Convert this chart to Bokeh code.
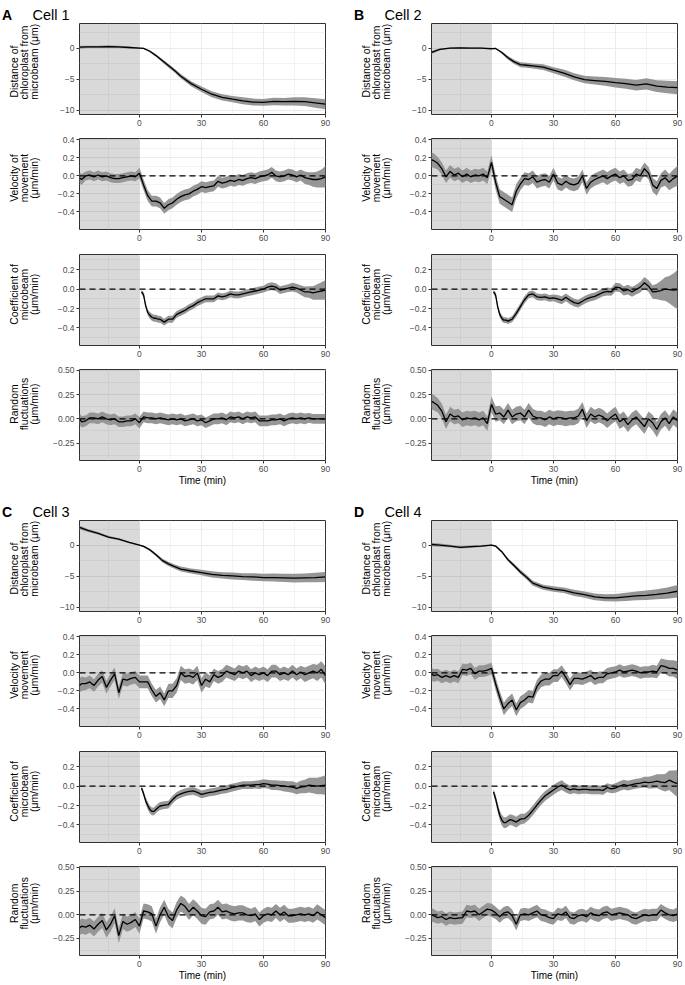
import math
from bokeh.plotting import figure
from bokeh.layouts import row, column
from bokeh.models import (Range1d, FixedTicker, CustomJSTickFormatter,
                          BoxAnnotation, Span, ColumnDataSource)
from bokeh.core.properties import value
from bokeh.embed import file_html
from bokeh.resources import INLINE

# ---------------------------------------------------------------- data
# time axes (min)
T_N = [-29] + list(range(-28, 91, 2))          # velocity / random fluctuations
T_D = [-29, -25, -20, -15, -10, -5, 0, 2, 5, 8, 11, 14, 17, 20,
       25, 30, 35, 40, 45, 50, 55, 60, 65, 70, 75, 80, 85, 90]   # distance
T_C = [1, 2, 3, 4, 5, 6, 7, 8, 9, 10] + list(range(12, 91, 2))  # coefficient

X_RANGE = (-29, 90)
X_TICKS = [0, 30, 60, 90]
X_MINOR = [-15, 15, 45, 75]
SHADE_END = 0
REF_Y = 0
X_LABEL = "Time (min)"

LETTERS = ["A", "B", "C", "D"]
CELLS = ["Cell 1", "Cell 2", "Cell 3", "Cell 4"]

# ---- Cell 1
D1 = [0.15, 0.2, 0.2, 0.25, 0.2, 0.1, 0.0, -0.05, -0.5, -1.2, -2.0, -2.8, -3.6, -4.5,
      -5.7, -6.6, -7.4, -7.9, -8.2, -8.45, -8.65, -8.7, -8.55, -8.6, -8.55, -8.6, -8.8, -9.0]
D1_SE = [0.25, 0.2, 0.2, 0.2, 0.2, 0.15, 0.1, 0.1, 0.15, 0.2, 0.25, 0.3, 0.3, 0.35,
         0.4, 0.45, 0.5, 0.5, 0.5, 0.55, 0.55, 0.55, 0.6, 0.6, 0.65, 0.7, 0.75, 0.8]
V1 = [-0.02, -0.04,
      0.0, 0.01, -0.01, 0.01, -0.01, 0.0, -0.02, -0.03, -0.03, -0.02,
      -0.01, 0.0, -0.01, 0.03, -0.1, -0.22, -0.28, -0.28, -0.3, -0.36,
      -0.32, -0.3, -0.26, -0.23, -0.21, -0.2, -0.17, -0.15, -0.12, -0.13,
      -0.12, -0.11, -0.06, -0.08, -0.07, -0.05, -0.06, -0.04, -0.05, -0.03,
      -0.02, -0.03, -0.01, 0.0, 0.01, 0.04, 0.0, -0.01, 0.0, 0.02,
      0.01, -0.01, 0.01, -0.02, -0.03, -0.04, -0.04, -0.03, -0.01]
V1_SE = [0.06, 0.06,
         0.05, 0.05, 0.05, 0.05, 0.05, 0.05, 0.05, 0.05, 0.05, 0.05,
         0.05, 0.05, 0.05, 0.06, 0.06, 0.06, 0.06, 0.06, 0.06, 0.06,
         0.06, 0.06, 0.06, 0.06, 0.06, 0.06, 0.06, 0.06, 0.06, 0.06,
         0.06, 0.06, 0.06, 0.06, 0.06, 0.06, 0.06, 0.06, 0.06, 0.06,
         0.06, 0.06, 0.06, 0.06, 0.06, 0.06, 0.06, 0.06, 0.06, 0.06,
         0.06, 0.06, 0.06, 0.07, 0.07, 0.08, 0.09, 0.1, 0.12]
C1 = [-0.03, -0.06, -0.17, -0.24, -0.27, -0.29, -0.3, -0.3, -0.31, -0.31,
      -0.34, -0.31, -0.31, -0.26, -0.24, -0.22, -0.19, -0.17, -0.14, -0.12,
      -0.1, -0.1, -0.1, -0.07, -0.08, -0.07, -0.05, -0.06, -0.06, -0.05,
      -0.04, -0.03, -0.02, -0.01, 0.0, 0.02, 0.03, 0.02, -0.01, 0.0,
      0.01, 0.02, 0.01, -0.01, -0.03, -0.03, -0.04, -0.03, -0.02, -0.01]
C1_SE = [0.02, 0.03, 0.03, 0.03, 0.035, 0.035, 0.035, 0.035, 0.035, 0.035,
         0.035, 0.035, 0.035, 0.035, 0.035, 0.035, 0.035, 0.035, 0.035, 0.035,
         0.035, 0.035, 0.035, 0.035, 0.035, 0.035, 0.035, 0.035, 0.035, 0.035,
         0.035, 0.035, 0.035, 0.035, 0.035, 0.04, 0.04, 0.04, 0.04, 0.04,
         0.04, 0.045, 0.045, 0.05, 0.055, 0.06, 0.07, 0.08, 0.09, 0.1]
R1 = [0.0, -0.03,
      -0.02, 0.01, 0.01, 0.0, 0.02, 0.0, -0.01, 0.0, -0.03, -0.03,
      -0.02, -0.02, 0.0, -0.04, 0.02, 0.01, 0.01, 0.0, 0.01, 0.0,
      -0.01, 0.0, -0.01, 0.0, -0.02, -0.01, 0.0, -0.02, -0.01, -0.04,
      -0.02, 0.0, 0.0, 0.01, -0.01, 0.02, 0.01, 0.02, 0.0, 0.02,
      0.01, 0.02, -0.02, -0.02, -0.02, -0.01, -0.01, 0.0, -0.02, 0.0,
      0.01, 0.0, 0.01, 0.0, 0.01, 0.0, 0.0, 0.0, 0.0]
R1_SE = [0.06, 0.06,
         0.055, 0.055, 0.055, 0.055, 0.055, 0.055, 0.055, 0.055, 0.055, 0.055,
         0.055, 0.055, 0.055, 0.06, 0.055, 0.055, 0.055, 0.055, 0.055, 0.055,
         0.055, 0.055, 0.055, 0.055, 0.055, 0.055, 0.055, 0.055, 0.055, 0.055,
         0.055, 0.055, 0.055, 0.055, 0.055, 0.055, 0.055, 0.055, 0.055, 0.055,
         0.055, 0.055, 0.055, 0.055, 0.055, 0.055, 0.055, 0.055, 0.055, 0.055,
         0.055, 0.055, 0.055, 0.055, 0.05, 0.05, 0.05, 0.05, 0.05]

# ---- Cell 2
D2 = [-0.7, -0.2, 0.0, 0.05, 0.0, 0.0, -0.1, -0.05, -0.7, -1.55, -2.2, -2.65, -2.75, -2.85,
      -3.05, -3.55, -4.0, -4.6, -5.05, -5.2, -5.35, -5.55, -5.7, -5.95, -5.75, -6.1, -6.25, -6.35]
D2_SE = [0.25, 0.15, 0.1, 0.1, 0.1, 0.1, 0.05, 0.1, 0.2, 0.3, 0.35, 0.4, 0.4, 0.4,
         0.45, 0.5, 0.55, 0.55, 0.6, 0.65, 0.7, 0.75, 0.8, 0.85, 0.9, 0.95, 1.0, 1.05]
V2 = [0.18, 0.17,
      0.14, 0.08, -0.01, 0.05, 0.01, 0.03, -0.01, 0.02, -0.01, 0.01,
      0.0, 0.02, -0.02, 0.15, -0.07, -0.23, -0.26, -0.29, -0.32, -0.17,
      -0.09, -0.03, -0.04, -0.01, -0.07, -0.05, -0.04, -0.07, 0.02, -0.08,
      -0.1, -0.06, -0.09, -0.1, -0.08, 0.0, -0.14, -0.07, -0.04, -0.02,
      0.0, -0.03, 0.0, 0.02, -0.02, 0.0, -0.05, -0.04, 0.02, 0.0,
      0.08, 0.03, -0.1, -0.14, -0.05, -0.02, -0.07, -0.03, 0.0]
V2_SE = [0.08, 0.08,
         0.07, 0.07, 0.07, 0.07, 0.07, 0.07, 0.07, 0.07, 0.07, 0.07,
         0.07, 0.07, 0.07, 0.08, 0.08, 0.08, 0.08, 0.08, 0.08, 0.08,
         0.07, 0.07, 0.07, 0.07, 0.07, 0.07, 0.07, 0.07, 0.07, 0.07,
         0.07, 0.07, 0.07, 0.07, 0.07, 0.07, 0.07, 0.07, 0.07, 0.07,
         0.07, 0.07, 0.07, 0.07, 0.07, 0.07, 0.07, 0.07, 0.07, 0.07,
         0.07, 0.07, 0.08, 0.08, 0.08, 0.09, 0.09, 0.1, 0.11]
C2 = [-0.03, -0.06, -0.18, -0.26, -0.3, -0.32, -0.32, -0.33, -0.32, -0.31,
      -0.25, -0.18, -0.11, -0.06, -0.05, -0.08, -0.085, -0.08, -0.095, -0.09,
      -0.1, -0.115, -0.085, -0.115, -0.14, -0.15, -0.125, -0.1, -0.085, -0.075,
      -0.055, -0.035, -0.025, -0.03, 0.02, 0.015, -0.02, -0.005, -0.03, -0.005,
      0.02, 0.065, 0.03, -0.03, -0.025, -0.015, 0.0, -0.005, -0.01, -0.005]
C2_SE = [0.02, 0.03, 0.03, 0.03, 0.03, 0.03, 0.03, 0.03, 0.03, 0.03,
         0.035, 0.035, 0.035, 0.035, 0.035, 0.035, 0.035, 0.035, 0.035, 0.035,
         0.04, 0.04, 0.04, 0.04, 0.04, 0.04, 0.04, 0.04, 0.04, 0.04,
         0.04, 0.04, 0.04, 0.04, 0.045, 0.045, 0.045, 0.05, 0.05, 0.05,
         0.055, 0.06, 0.06, 0.07, 0.08, 0.1, 0.12, 0.14, 0.17, 0.2]
R2 = [0.18, 0.17,
      0.14, 0.08, -0.03, 0.05, 0.02, 0.03, -0.01, 0.01, 0.0, 0.01,
      -0.01, 0.01, -0.05, 0.15, 0.05, 0.06, 0.02, 0.09, 0.02, 0.05,
      0.06, 0.02, 0.09, 0.03, 0.01, 0.01, -0.01, 0.02, 0.0, 0.015,
      0.01, 0.0, 0.01, 0.01, 0.03, 0.1, -0.02, 0.05, 0.02, 0.04,
      0.02, -0.02, 0.02, 0.05, -0.03, 0.0, -0.06, -0.01, 0.02, -0.03,
      -0.08, 0.0, -0.04, -0.11, -0.03, 0.01, -0.05, 0.02, -0.02]
R2_SE = [0.08, 0.08,
         0.075, 0.075, 0.075, 0.075, 0.075, 0.075, 0.075, 0.075, 0.075, 0.075,
         0.075, 0.075, 0.075, 0.08, 0.08, 0.075, 0.075, 0.075, 0.075, 0.075,
         0.075, 0.075, 0.075, 0.075, 0.075, 0.075, 0.075, 0.075, 0.075, 0.075,
         0.075, 0.075, 0.075, 0.075, 0.075, 0.075, 0.075, 0.075, 0.075, 0.075,
         0.075, 0.075, 0.075, 0.075, 0.075, 0.075, 0.075, 0.075, 0.075, 0.075,
         0.075, 0.075, 0.08, 0.08, 0.08, 0.08, 0.08, 0.08, 0.08]

# ---- Cell 3
D3 = [2.85, 2.35, 1.9, 1.3, 0.95, 0.45, 0.0, -0.2, -0.75, -1.55, -2.45, -3.0, -3.45, -3.85,
      -4.15, -4.4, -4.7, -4.85, -4.95, -5.05, -5.1, -5.2, -5.2, -5.25, -5.3, -5.25, -5.2, -5.1]
D3_SE = [0.3, 0.25, 0.2, 0.2, 0.15, 0.15, 0.1, 0.15, 0.2, 0.25, 0.3, 0.35, 0.35, 0.4,
         0.4, 0.45, 0.5, 0.5, 0.55, 0.55, 0.6, 0.6, 0.65, 0.65, 0.7, 0.7, 0.75, 0.8]
V3 = [-0.14, -0.12,
      -0.12, -0.1, -0.14, -0.08, -0.04, -0.16, -0.08, -0.01, -0.22, -0.07,
      -0.08, -0.06, -0.05, -0.1, -0.1, -0.1, -0.19, -0.26, -0.22, -0.3,
      -0.2, -0.2, -0.14, 0.0, -0.04, -0.03, -0.05, 0.0, -0.14, -0.07,
      -0.1, -0.02, -0.05, -0.03, 0.02, 0.0, -0.02, 0.02, 0.0, 0.02,
      -0.03, 0.0, -0.02, 0.0, -0.03, 0.02, 0.02, -0.02, 0.0, -0.02,
      0.02, -0.02, 0.01, -0.02, 0.0, 0.02, 0.0, 0.04, -0.03]
V3_SE = [0.08, 0.08,
         0.07, 0.07, 0.07, 0.07, 0.07, 0.07, 0.07, 0.07, 0.07, 0.07,
         0.07, 0.07, 0.07, 0.07, 0.07, 0.07, 0.07, 0.07, 0.07, 0.07,
         0.08, 0.08, 0.08, 0.08, 0.08, 0.08, 0.08, 0.08, 0.08, 0.08,
         0.07, 0.07, 0.07, 0.07, 0.07, 0.07, 0.07, 0.07, 0.07, 0.07,
         0.07, 0.07, 0.07, 0.07, 0.07, 0.07, 0.07, 0.07, 0.07, 0.07,
         0.07, 0.07, 0.07, 0.08, 0.08, 0.08, 0.09, 0.09, 0.1]
C3 = [-0.02, -0.08, -0.15, -0.2, -0.24, -0.26, -0.26, -0.24, -0.22, -0.205,
      -0.195, -0.19, -0.14, -0.1, -0.08, -0.065, -0.055, -0.05, -0.065, -0.085,
      -0.075, -0.065, -0.06, -0.05, -0.04, -0.035, -0.02, -0.01, 0.0, 0.01,
      0.01, 0.01, 0.015, 0.015, 0.025, 0.02, 0.01, 0.01, 0.005, 0.0,
      -0.005, -0.01, -0.025, -0.01, -0.005, 0.01, 0.005, 0.0, 0.005, 0.01]
C3_SE = [0.02, 0.03, 0.035, 0.04, 0.04, 0.04, 0.04, 0.04, 0.04, 0.04,
         0.04, 0.04, 0.04, 0.04, 0.04, 0.04, 0.04, 0.04, 0.04, 0.04,
         0.04, 0.04, 0.04, 0.04, 0.04, 0.04, 0.04, 0.04, 0.04, 0.04,
         0.04, 0.04, 0.04, 0.045, 0.045, 0.045, 0.05, 0.05, 0.05, 0.055,
         0.055, 0.06, 0.06, 0.065, 0.07, 0.075, 0.08, 0.085, 0.09, 0.1]
R3 = [-0.14, -0.12,
      -0.13, -0.11, -0.15, -0.1, -0.06, -0.16, -0.1, -0.01, -0.22, -0.07,
      -0.1, -0.08, -0.05, -0.12, 0.04, 0.03, 0.01, -0.12, 0.0, 0.08,
      -0.02, -0.06, 0.05, 0.12, 0.09, 0.03, 0.08, 0.04, -0.01, -0.02,
      0.03, 0.04, 0.08, 0.03, 0.04, 0.02, 0.01, 0.02, 0.02, 0.0,
      -0.01, 0.01, -0.05, -0.01, 0.01, 0.0, 0.04, 0.0, 0.03, -0.01,
      -0.01, 0.0, 0.01, 0.0, 0.01, -0.01, 0.03, 0.0, -0.03]
R3_SE = [0.08, 0.08,
         0.08, 0.08, 0.08, 0.08, 0.08, 0.08, 0.08, 0.08, 0.08, 0.08,
         0.08, 0.08, 0.08, 0.08, 0.08, 0.08, 0.08, 0.08, 0.08, 0.08,
         0.085, 0.085, 0.085, 0.085, 0.085, 0.085, 0.085, 0.085, 0.085, 0.085,
         0.08, 0.08, 0.08, 0.08, 0.08, 0.08, 0.08, 0.08, 0.08, 0.08,
         0.075, 0.075, 0.075, 0.075, 0.075, 0.075, 0.075, 0.075, 0.075, 0.075,
         0.075, 0.075, 0.075, 0.075, 0.075, 0.075, 0.08, 0.08, 0.08]

# ---- Cell 4
D4 = [0.1, 0.0, -0.15, -0.35, -0.25, -0.15, 0.0, -0.15, -1.05, -2.35, -3.3, -4.3, -5.15, -6.1,
      -6.75, -7.05, -7.25, -7.65, -7.95, -8.3, -8.45, -8.45, -8.3, -8.15, -8.05, -7.9, -7.7, -7.4]
D4_SE = [0.3, 0.25, 0.2, 0.2, 0.2, 0.15, 0.1, 0.15, 0.2, 0.25, 0.3, 0.35, 0.35, 0.4,
         0.4, 0.45, 0.45, 0.5, 0.5, 0.55, 0.55, 0.6, 0.65, 0.7, 0.75, 0.8, 0.9, 1.0]
V4 = [-0.01, -0.03,
      -0.02, -0.05, -0.03, -0.05, -0.03, -0.05, 0.04, 0.03, 0.05, -0.01,
      0.02, 0.02, 0.03, 0.05, -0.12, -0.27, -0.4, -0.34, -0.3, -0.41,
      -0.33, -0.3, -0.26, -0.27, -0.15, -0.09, -0.07, -0.07, -0.03, -0.03,
      0.02, -0.05, -0.13, -0.06, -0.06, -0.07, -0.05, -0.03, -0.07, -0.05,
      -0.05, -0.01, 0.0, 0.01, 0.03, 0.01, 0.02, 0.03, 0.02, 0.0,
      0.01, 0.01, 0.02, 0.01, 0.08, 0.07, 0.05, 0.05, 0.03]
V4_SE = [0.07, 0.07,
         0.065, 0.065, 0.065, 0.065, 0.065, 0.065, 0.065, 0.065, 0.065, 0.065,
         0.065, 0.065, 0.065, 0.065, 0.07, 0.07, 0.07, 0.07, 0.07, 0.07,
         0.07, 0.07, 0.07, 0.07, 0.07, 0.07, 0.07, 0.07, 0.07, 0.07,
         0.065, 0.065, 0.065, 0.065, 0.065, 0.065, 0.065, 0.065, 0.065, 0.065,
         0.065, 0.065, 0.065, 0.065, 0.065, 0.065, 0.065, 0.065, 0.065, 0.065,
         0.065, 0.065, 0.07, 0.07, 0.08, 0.08, 0.09, 0.09, 0.1]
C4 = [-0.06, -0.13, -0.22, -0.3, -0.35, -0.375, -0.375, -0.36, -0.345, -0.35,
      -0.37, -0.34, -0.335, -0.3, -0.25, -0.195, -0.145, -0.1, -0.07, -0.04,
      -0.01, 0.01, -0.02, -0.04, -0.03, -0.04, -0.035, -0.035, -0.04, -0.04,
      -0.04, -0.045, -0.015, -0.03, -0.02, 0.0, 0.015, 0.005, 0.015, 0.025,
      0.03, 0.04, 0.035, 0.04, 0.05, 0.04, 0.035, 0.06, 0.04, 0.025]
C4_SE = [0.03, 0.04, 0.045, 0.05, 0.055, 0.055, 0.055, 0.055, 0.055, 0.055,
         0.055, 0.055, 0.05, 0.05, 0.05, 0.05, 0.05, 0.05, 0.05, 0.05,
         0.05, 0.05, 0.045, 0.045, 0.045, 0.045, 0.045, 0.045, 0.045, 0.045,
         0.045, 0.045, 0.045, 0.045, 0.05, 0.05, 0.05, 0.05, 0.05, 0.05,
         0.05, 0.055, 0.06, 0.065, 0.07, 0.08, 0.09, 0.1, 0.12, 0.14]
R4 = [0.0, -0.01,
      -0.03, -0.02, -0.05, -0.03, -0.04, -0.035, -0.03, 0.04, 0.03, 0.04,
      0.0, 0.03, 0.06, 0.05, 0.02, -0.02, 0.02, 0.03, -0.01, -0.1,
      0.0, 0.01, 0.0, 0.02, 0.04, 0.0, -0.01, -0.03, -0.04, 0.01,
      0.0, 0.03, -0.03, -0.04, -0.01, 0.0, -0.02, 0.02, 0.0, -0.01,
      0.02, 0.03, 0.0, 0.01, 0.02, 0.01, 0.0, -0.03, -0.04, -0.02,
      0.0, -0.01, 0.0, 0.0, 0.05, 0.02, 0.0, -0.01, 0.01]
R4_SE = [0.07, 0.07,
         0.065, 0.065, 0.065, 0.065, 0.065, 0.065, 0.065, 0.065, 0.065, 0.065,
         0.065, 0.065, 0.065, 0.07, 0.065, 0.065, 0.065, 0.065, 0.065, 0.065,
         0.065, 0.065, 0.065, 0.065, 0.065, 0.065, 0.065, 0.065, 0.065, 0.065,
         0.065, 0.065, 0.065, 0.065, 0.065, 0.065, 0.065, 0.065, 0.065, 0.065,
         0.065, 0.065, 0.065, 0.065, 0.065, 0.065, 0.065, 0.065, 0.065, 0.065,
         0.065, 0.065, 0.065, 0.065, 0.065, 0.065, 0.065, 0.065, 0.07]

CELL_SERIES = [
    {"dist": (T_D, D1, D1_SE), "vel": (T_N, V1, V1_SE), "coef": (T_C, C1, C1_SE), "rand": (T_N, R1, R1_SE)},
    {"dist": (T_D, D2, D2_SE), "vel": (T_N, V2, V2_SE), "coef": (T_C, C2, C2_SE), "rand": (T_N, R2, R2_SE)},
    {"dist": (T_D, D3, D3_SE), "vel": (T_N, V3, V3_SE), "coef": (T_C, C3, C3_SE), "rand": (T_N, R3, R3_SE)},
    {"dist": (T_D, D4, D4_SE), "vel": (T_N, V4, V4_SE), "coef": (T_C, C4, C4_SE), "rand": (T_N, R4, R4_SE)},
]

PANELS = {
    "dist": dict(yr=(-10.65, 3.95), ticks=[-10, -5, 0], minor=[-7.5, -2.5, 2.5], dec=0,
                 label=["Distance of", "chloroplast from", "microbeam (\u03bcm)"],
                 line_len=[52, 74, 76], dashed=False),
    "vel": dict(yr=(-0.595, 0.415), ticks=[-0.4, -0.2, 0, 0.2, 0.4], minor=[-0.5, -0.3, -0.1, 0.1, 0.3], dec=1,
                label=["Velocity of", "movement", "(\u03bcm/min)"], line_len=None, dashed=True),
    "coef": dict(yr=(-0.58, 0.355), ticks=[-0.4, -0.2, 0, 0.2], minor=[-0.5, -0.3, -0.1, 0.1, 0.3], dec=1,
                 label=["Coefficient of", "microbeam", "(\u03bcm/min)"], line_len=None, dashed=True),
    "rand": dict(yr=(-0.43, 0.51), ticks=[-0.25, 0, 0.25, 0.5], minor=[-0.375, -0.125, 0.125, 0.375], dec=2,
                 label=["Random", "fluctuations", "(\u03bcm/min)"], line_len=None, dashed=True),
}
ORDER = ["dist", "vel", "coef", "rand"]

# ---------------------------------------------------------------- style / layout
FONT = "Liberation Sans"
FW, FH = 246, 91           # plotting frame size
AXW = 30                   # room for y tick labels inside each panel figure
LABW = [49, 66]            # width of the y-title strip, per column
RB = [10, 8]               # right border, per column
TITLE_H = 22
TB = [1, 5, 5, 5]          # top border per panel position
BB = [19, 20, 19]          # bottom border per panel position (last one per block below)
BB_LAST = [37, 26]
RIBBON = "#969696"
BORDER = "#333333"
GRID = "#ebebeb"
YT_OFFS = [-65.5, -55.5, -45.5]  # centres of the 3 title lines, relative to frame left
LETTER_OFF = -77.5
CELL_OFF = -47
TITLE_BASE = 7.5
LEFT_BOTTOM = 7.3          # gap below left-aligned (distance) y title


def fmt(dec):
    return CustomJSTickFormatter(
        code="return tick.toFixed(%d).replace('-', '\\u2212');" % dec)


def blank(width, height):
    p = figure(width=width, height=height, x_range=Range1d(0, width), y_range=Range1d(0, height),
               output_backend="svg", toolbar_location=None, title=None,
               x_axis_type=None, y_axis_type=None,
               min_border_left=0, min_border_right=0, min_border_top=0, min_border_bottom=0)
    p.outline_line_color = None
    p.background_fill_color = "white"
    p.border_fill_color = "white"
    p.grid.visible = False
    return p


def title_strip(col, letter, cell):
    w = LABW[col] + AXW + FW + RB[col]
    p = blank(w, TITLE_H)
    fl = LABW[col] + AXW
    p.text(x=[fl + LETTER_OFF], y=[TITLE_BASE], text=[letter], text_font=value(FONT),
           text_font_size="14px", text_font_style="bold", text_align="left",
           text_baseline="alphabetic", text_color="black")
    p.text(x=[fl + CELL_OFF], y=[TITLE_BASE], text=[cell], text_font=value(FONT),
           text_font_size="14.5px", text_align="left",
           text_baseline="alphabetic", text_color="black")
    return p


def ytitle_strip(kind, col, height, bb):
    cfg = PANELS[kind]
    w = LABW[col]
    p = blank(w, height)
    xs = [w + AXW + o for o in YT_OFFS]
    if cfg["line_len"]:
        ys = [bb + LEFT_BOTTOM + L / 2 for L in cfg["line_len"]]
    else:
        ys = [bb + FH / 2] * 3
    p.text(x=xs, y=ys, text=cfg["label"], angle=math.pi / 2,
           text_align="center", text_baseline="middle",
           text_font=value(FONT), text_font_size="10.4px", text_color="black")
    return p


def make_panel(kind, series, col, pos, block):
    cfg = PANELS[kind]
    t, y, se = series
    tb = TB[pos]
    bb = BB[pos] if pos < 3 else BB_LAST[block]
    h = tb + FH + bb
    p = figure(width=AXW + FW + RB[col], height=h,
               x_range=Range1d(*X_RANGE), y_range=Range1d(*cfg["yr"]),
               output_backend="svg", toolbar_location=None, title=None,
               min_border_left=AXW, min_border_right=RB[col],
               min_border_top=tb, min_border_bottom=bb)
    p.background_fill_color = "white"
    p.border_fill_color = "white"
    p.outline_line_color = BORDER
    p.outline_line_width = 1

    p.xaxis.ticker = FixedTicker(ticks=X_TICKS, minor_ticks=X_MINOR)
    p.yaxis.ticker = FixedTicker(ticks=cfg["ticks"], minor_ticks=cfg["minor"])
    p.xaxis.formatter = fmt(0)
    p.yaxis.formatter = fmt(cfg["dec"])
    for ax in (p.xaxis[0], p.yaxis[0]):
        ax.axis_line_color = None
        ax.major_tick_line_color = BORDER
        ax.major_tick_in = 0
        ax.major_tick_out = 3
        ax.minor_tick_line_color = None
        ax.major_label_text_font = FONT
        ax.major_label_text_font_size = "8.5px"
        ax.major_label_text_color = "#4d4d4d"
        ax.major_label_standoff = 1
    for g in (p.xgrid[0], p.ygrid[0]):
        g.grid_line_color = GRID
        g.grid_line_width = 1
        g.minor_grid_line_color = GRID
        g.minor_grid_line_width = 0.6

    if pos == 3:
        p.xaxis.axis_label = X_LABEL
        p.xaxis.axis_label_text_font = FONT
        p.xaxis.axis_label_text_font_size = "10px"
        p.xaxis.axis_label_text_font_style = "normal"
        p.xaxis.axis_label_text_color = "black"
        p.xaxis.axis_label_standoff = 0

    p.add_layout(BoxAnnotation(left=X_RANGE[0], right=SHADE_END, fill_color="black",
                               fill_alpha=0.15, line_color=None, level="underlay"))

    src = ColumnDataSource(dict(t=t, y=y,
                                lo=[a - b for a, b in zip(y, se)],
                                hi=[a + b for a, b in zip(y, se)]))
    p.varea(x="t", y1="lo", y2="hi", source=src, fill_color=RIBBON)
    p.line(x="t", y="y", source=src, line_color="black", line_width=1.3)
    if cfg["dashed"]:
        p.add_layout(Span(location=REF_Y, dimension="width", line_color="black",
                          line_width=1.3, line_dash="6 4"))

    lab = ytitle_strip(kind, col, h, bb)
    return row(lab, p)


blocks = []
for b in range(2):
    cols = []
    for c in range(2):
        ci = b * 2 + c
        items = [title_strip(c, LETTERS[ci], CELLS[ci])]
        items += [make_panel(k, CELL_SERIES[ci][k], c, i, b) for i, k in enumerate(ORDER)]
        cols.append(column(*items))
    blocks.append(row(*cols))
page = column(*blocks)

open("out.html", "w").write(file_html(page, INLINE))
